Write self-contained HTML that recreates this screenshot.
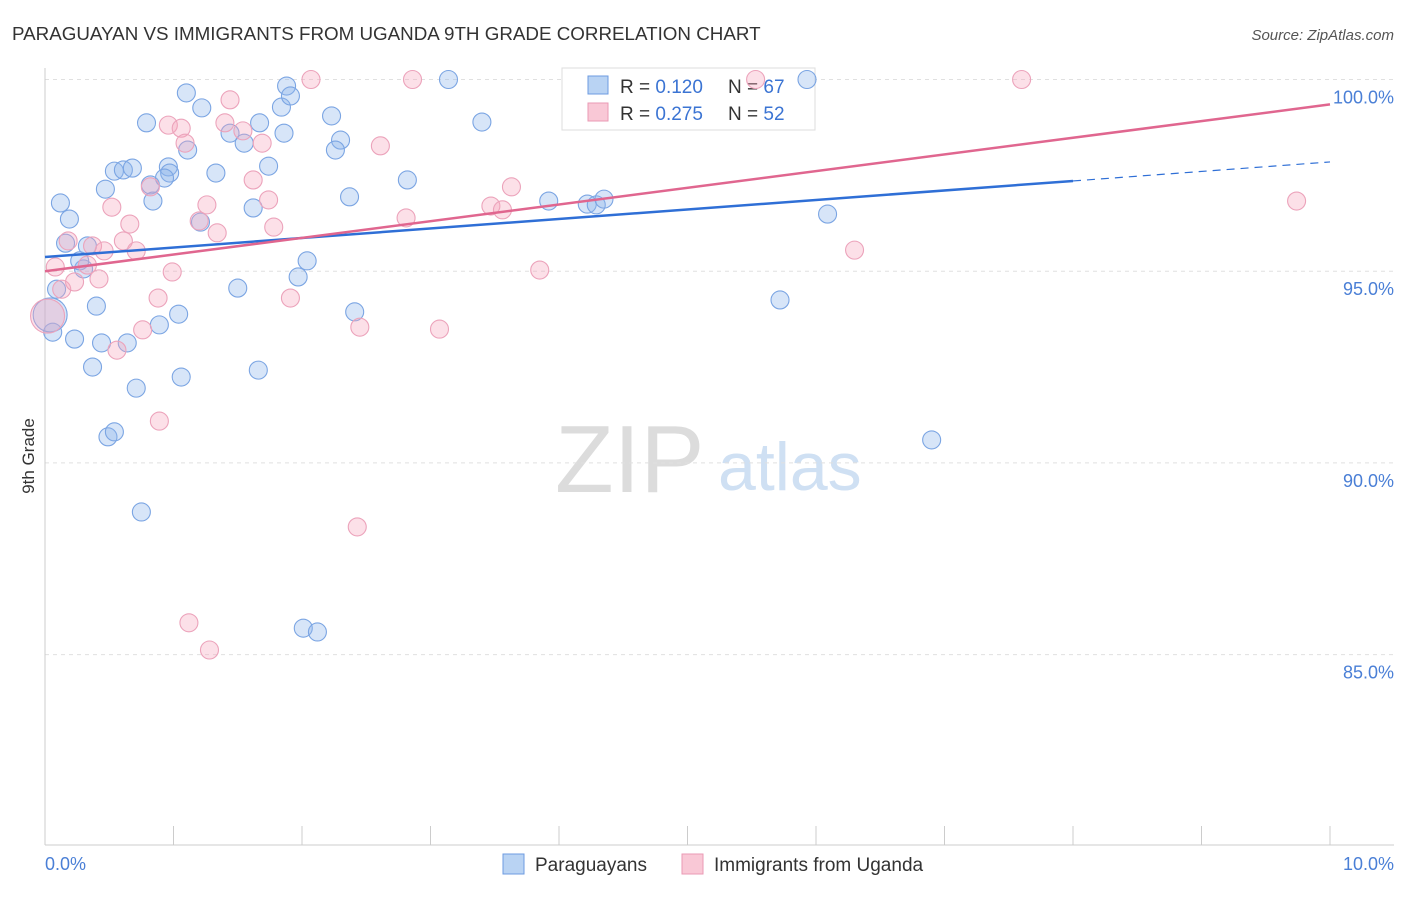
<!DOCTYPE html>
<html><head><meta charset="utf-8"><style>
body{margin:0;background:#fff;font-family:"Liberation Sans",sans-serif}
svg text{font-family:"Liberation Sans",sans-serif}
</style></head><body>
<svg id="chart" width="1406" height="892" xmlns="http://www.w3.org/2000/svg">
<text x="12" y="40" font-size="18.8" fill="#333">PARAGUAYAN VS IMMIGRANTS FROM UGANDA 9TH GRADE CORRELATION CHART</text>
<text x="1394" y="40" font-size="15" fill="#555" font-style="italic" text-anchor="end">Source: ZipAtlas.com</text>
<text transform="translate(34,456) rotate(-90)" font-size="17" fill="#333" text-anchor="middle">9th Grade</text>
<text x="555" y="492" font-size="96" fill="#dcdcdc" font-family="Liberation Serif">ZIP</text>
<text x="718" y="490" font-size="68" fill="#cfe0f3">atlas</text>
<g id="grid"></g>
<g>
<rect x="562" y="68" width="253" height="62" fill="#fff" stroke="#ddd"/>
<rect x="588" y="76" width="20" height="18" fill="#b9d3f3" stroke="#6d9be0"/>
<rect x="588" y="103" width="20" height="18" fill="#f9c8d6" stroke="#ea9ab4"/>
<text x="620" y="93" font-size="19" fill="#333">R = <tspan fill="#3b74d3">0.120</tspan><tspan x="728">N = </tspan><tspan fill="#3b74d3">67</tspan></text>
<text x="620" y="120" font-size="19" fill="#333">R = <tspan fill="#3b74d3">0.275</tspan><tspan x="728">N = </tspan><tspan fill="#3b74d3">52</tspan></text>
</g>
<g id="pts"></g><g id="lines"></g>
<text x="45" y="870" font-size="18" fill="#4a7fd6">0.0%</text>
<text x="1394" y="870" font-size="18" fill="#4a7fd6" text-anchor="end">10.0%</text>
<g>
<rect x="503" y="854" width="21" height="20" fill="#b9d3f3" stroke="#6d9be0"/>
<text x="535" y="871" font-size="19" fill="#333">Paraguayans</text>
<rect x="682" y="854" width="21" height="20" fill="#f9c8d6" stroke="#ea9ab4"/>
<text x="714" y="871" font-size="19" fill="#333">Immigrants from Uganda</text>
</g>
</svg>
<script>
const yTicks=[100,95,90,85];
const xTickVals=[0,1,2,3,4,5,6,7,8,9,10];
const blueX=[.12,.19,.16,.09,.06,.23,.37,.40,.44,.47,.33,.30,.27,.54,.61,.68,.79,.82,.84,.96,.97,.93,1.10,1.22,1.11,1.33,1.44,1.55,1.67,1.62,1.74,1.84,1.86,1.88,1.91,2.23,2.30,2.26,2.37,1.50,2.04,1.97,1.04,.89,.64,.71,1.06,1.66,.49,.54,.75,2.01,2.12,2.41,2.82,3.14,3.40,3.92,4.22,4.29,4.35,5.93,6.09,5.72,6.90,.04,1.21];
const blueY=[96.78,96.36,95.73,94.53,93.41,93.23,92.50,94.09,93.13,97.14,95.66,95.06,95.27,97.61,97.64,97.69,98.87,97.25,96.83,97.72,97.56,97.43,99.65,99.26,98.16,97.56,98.60,98.34,98.87,96.65,97.74,99.28,98.60,99.83,99.57,99.05,98.42,98.16,96.94,94.56,95.27,94.85,93.88,93.60,93.13,91.95,92.24,92.42,90.68,90.81,88.72,85.69,85.59,93.94,97.38,100,98.89,96.83,96.75,96.73,96.88,100,96.49,94.25,90.60,93.86,96.28];
const pinkX=[.08,.13,.23,.18,.33,.37,.42,.46,.52,.61,.66,.71,.56,.76,.88,.89,.99,.96,1.06,1.09,.82,1.20,1.26,1.34,1.44,1.40,1.54,1.62,1.69,1.74,1.78,1.91,2.07,2.43,2.45,2.61,2.81,2.86,3.07,3.47,3.56,3.63,3.85,5.53,6.30,7.60,9.74,1.12,1.28,.02];
const pinkY=[95.11,94.53,94.72,95.79,95.16,95.66,94.80,95.53,96.67,95.79,96.23,95.53,92.94,93.47,94.30,91.09,94.98,98.81,98.73,98.34,97.20,96.31,96.73,96.00,99.47,98.87,98.66,97.38,98.34,96.86,96.15,94.30,100,88.33,93.54,98.27,96.39,100,93.49,96.70,96.60,97.20,95.03,100,95.55,100,96.83,85.83,85.12,93.83];
const blueTrend=[95.37,97.85];
const pinkTrend=[95.0,99.35];
const NS='http://www.w3.org/2000/svg';
const X=v=>45+v*128.5;
const Y=v=>79.5+(100-v)*38.34;
function mk(t,a,p){const e=document.createElementNS(NS,t);for(const k in a)e.setAttribute(k,a[k]);p.appendChild(e);return e;}
const grid=document.getElementById('grid');
yTicks.forEach(t=>{
 const l=mk('line',{x1:45,x2:1394,y1:Y(t),y2:Y(t),stroke:'#e0e0e0','stroke-dasharray':'4,4'},grid);
 
 
 const tx=mk('text',{x:1394,y:Y(t)+24,'font-size':18,fill:'#4a7fd6','text-anchor':'end'},grid);
 tx.textContent=t.toFixed(1)+'%';
 
 
});
const ax=mk('line',{x1:45,x2:1394,y1:845,y2:845,stroke:'#ccc'},grid);


const ay=mk('line',{x1:45,x2:45,y1:68,y2:845,stroke:'#ccc'},grid);


xTickVals.forEach(v=>{
 const t=mk('line',{x1:X(v),x2:X(v),y1:826,y2:845,stroke:'#ccc'},grid);
 
 
});
const pts=document.getElementById('pts');
function drawPts(xs,ys,fill,stroke,name){
 xs.forEach((x,i)=>{
  const big=x<0.05;
  const c=mk('circle',{cx:X(x),cy:Y(ys[i]),r:big?17:9,fill:fill,stroke:stroke,'stroke-width':1.1},pts);
  
  
 });
}
drawPts(blueX,blueY,'rgba(140,180,235,0.35)','#7ba5e3','paraguayan-point');
drawPts(pinkX,pinkY,'rgba(245,165,190,0.35)','#eca3bb','uganda-point');
const lines=document.getElementById('lines');
const bEnd=8;
const bAt=v=>blueTrend[0]+(blueTrend[1]-blueTrend[0])*v/10;
const b1=mk('line',{x1:X(0),y1:Y(bAt(0)),x2:X(bEnd),y2:Y(bAt(bEnd)),stroke:'#2f6fd6','stroke-width':2.5},lines);


const b2=mk('line',{x1:X(bEnd),y1:Y(bAt(bEnd)),x2:X(10),y2:Y(bAt(10)),stroke:'#2f6fd6','stroke-width':1.2,'stroke-dasharray':'8,6'},lines);


const p1=mk('line',{x1:X(0),y1:Y(pinkTrend[0]),x2:X(10),y2:Y(pinkTrend[1]),stroke:'#e0668f','stroke-width':2.5},lines);


</script>
</body></html>
